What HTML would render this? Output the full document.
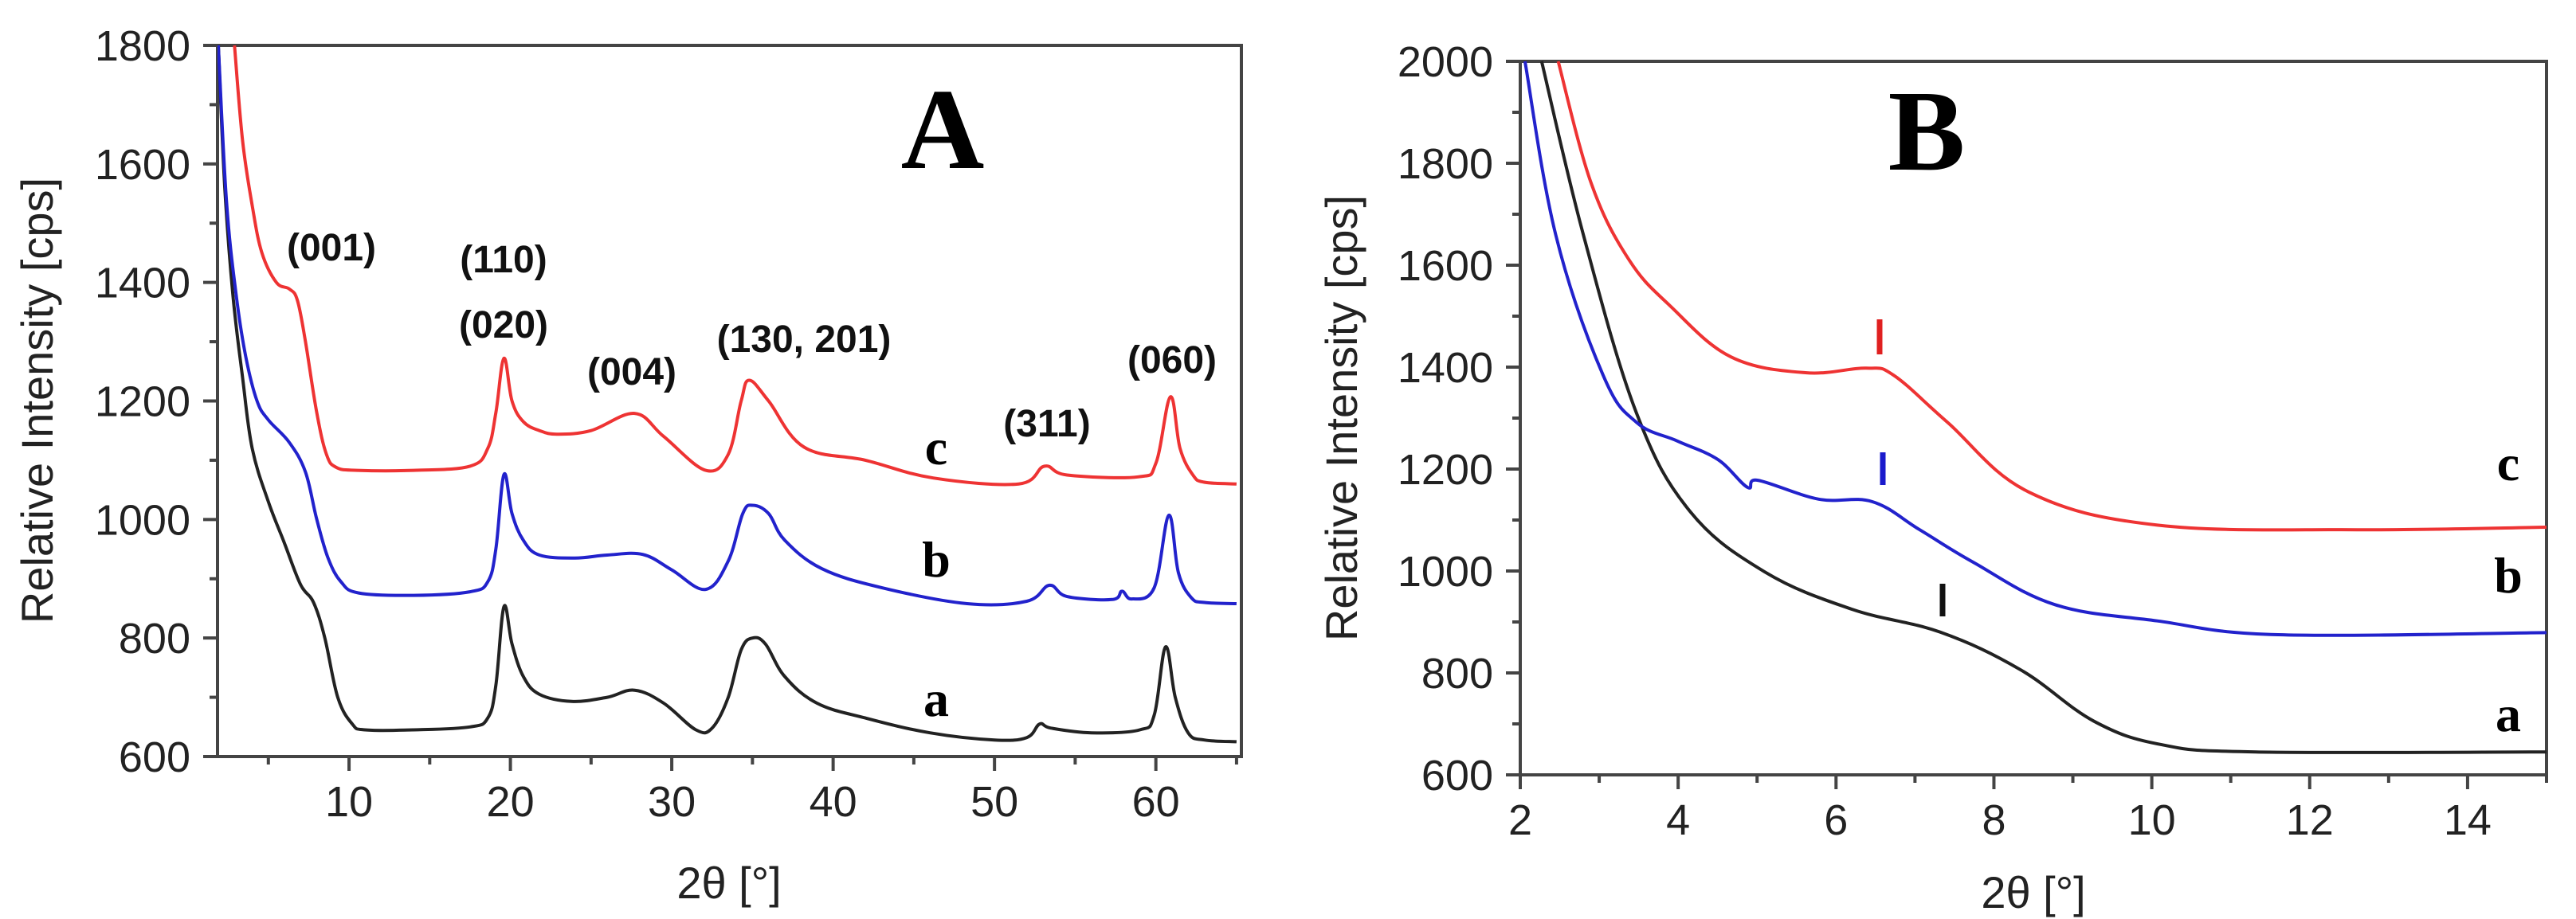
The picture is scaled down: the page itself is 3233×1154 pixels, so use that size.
<!DOCTYPE html>
<html><head><meta charset="utf-8"><style>
html,body{margin:0;padding:0;background:#fff;}
svg{display:block;}
text{font-family:"Liberation Sans",sans-serif;fill:#222;}
.serif{font-family:"Liberation Serif",serif;font-weight:bold;fill:#000;}
.pk{font-weight:bold;font-size:48px;fill:#111;}
</style></head><body>
<svg id="chart" width="3233" height="1154" viewBox="0 0 3233 1154"></svg>
<script>
// Panel A data
const aX=[1.9,2.3,2.8,3.4,4,5,6,7,7.8,8.5,9.3,10.2,11,14,17.5,18.6,19.1,19.6,20.1,20.8,21.8,23.8,26,27.7,29.5,31.5,32.5,33.5,34.3,35,35.8,37,39,42,46,50,52,52.8,53.5,56,59,59.9,60.6,61.2,62.0,63,65];
const aA=[1800,1560,1380,1240,1120,1030,960,890,860,800,700,655,645,645,650,665,720,853,790,735,705,693,700,712,690,645,648,700,780,800,790,735,690,665,640,628,632,655,648,640,645,670,785,700,640,628,625];
const bX=[1.9,2.4,3.0,3.6,4.3,5.0,6.3,7.3,8.0,8.7,9.5,10.6,14,17.5,18.6,19.1,19.6,20.1,20.8,21.8,24,26,28.2,30,32.1,33.5,34.4,35,36,37,39.3,43,48.3,52,53.4,54.5,57.3,57.9,58.5,59.9,60.8,61.4,62.2,63,65];
const bB=[1800,1540,1380,1275,1200,1168,1130,1080,1000,935,895,876,872,878,895,950,1076,1010,965,940,935,940,941,915,882,930,1010,1024,1010,965,917,885,858,862,889,870,865,879,866,885,1007,910,868,860,858];
const cX=[2.9,3.4,4.0,4.6,5.5,6.3,6.8,7.3,8.0,8.6,9.2,10.5,14,17.5,18.6,19.1,19.6,20.1,20.8,21.8,22.9,25,27.7,29.5,32.1,33.5,34.3,34.8,36,38.2,42,46.2,51.5,53.1,54.5,58.9,60.0,60.9,61.5,62.3,63,65];
const cC=[1800,1640,1530,1450,1400,1389,1370,1300,1180,1110,1088,1083,1083,1090,1120,1180,1272,1200,1165,1150,1144,1150,1179,1140,1083,1110,1200,1235,1200,1122,1100,1070,1060,1090,1075,1072,1095,1207,1120,1075,1063,1060];
const aXTicks=[10,20,30,40,50,60];
const aYTicks=[600,800,1000,1200,1400,1600,1800];
// Panel B data
const bbX=[2.06,2.45,3.05,3.47,3.99,4.5,4.88,5.01,5.78,6.46,7.06,7.74,8.77,10.07,11.6,15];
const bbB=[2000,1659,1384,1292,1255,1219,1164,1178,1141,1136,1081,1017,934,902,875,879];
const baX=[2.27,2.8,3.47,4.15,5.1,6.2,7.32,8.34,9.27,10.13,11.32,15];
const baA=[2000,1659,1311,1117,998,925,880,806,705,659,645,645];
const bcX=[2.48,2.9,3.38,3.9,4.67,5.61,6.38,6.73,7.41,8.44,10.07,12.6,15];
const bcC=[2000,1760,1610,1520,1420,1389,1398,1384,1292,1155,1090,1081,1086];
const bXTicks=[2,4,6,8,10,12,14];
const bYTicks=[600,800,1000,1200,1400,1600,1800,2000];

const NS="http://www.w3.org/2000/svg";
const svg=document.getElementById('chart');
function mk(tag,attrs,parent){const e=document.createElementNS(NS,tag);for(const k in attrs)e.setAttribute(k,attrs[k]);(parent||svg).appendChild(e);return e;}

const A={x0:273,x1:1558,y0:57,y1:950,xmin:1.85,xmax:65.3,ymin:600,ymax:1800};
const B={x0:1908,x1:3196,y0:77,y1:973,xmin:2,xmax:15,ymin:600,ymax:2000};
function sx(P,v){return P.x0+(v-P.xmin)/(P.xmax-P.xmin)*(P.x1-P.x0);}
function sy(P,v){return P.y1-(v-P.ymin)/(P.ymax-P.ymin)*(P.y1-P.y0);}

function frame(P,name,xt,yt,xminor,yminor){
  const g=mk('g',{});
  
  
  const clip=mk('clipPath',{id:name+'clip'});
  mk('rect',{x:P.x0,y:P.y0-40,width:P.x1-P.x0,height:P.y1-P.y0+40},clip);
  const r=mk('rect',{x:P.x0,y:P.y0,width:P.x1-P.x0,height:P.y1-P.y0,fill:'none',stroke:'#444','stroke-width':4},g);
  
  
  for(let v=Math.ceil(P.xmin/xminor)*xminor;v<=P.xmax+1e-9;v+=xminor){
    const major=xt.some(t=>Math.abs(t-v)<1e-6);
    mk('line',{x1:sx(P,v),x2:sx(P,v),y1:P.y1,y2:P.y1+(major?18:10),stroke:'#444','stroke-width':4},g);
  }
  for(let v=P.ymin;v<=P.ymax+1e-9;v+=yminor){
    const major=yt.some(t=>Math.abs(t-v)<1e-6);
    mk('line',{x1:P.x0,x2:P.x0-(major?18:10),y1:sy(P,v),y2:sy(P,v),stroke:'#444','stroke-width':4},g);
  }
  xt.forEach(t=>{const e=mk('text',{x:sx(P,t),y:P.y1+75,'font-size':54,'text-anchor':'middle'},g);e.textContent=t;
    
    });
  yt.forEach(t=>{const e=mk('text',{x:P.x0-34,y:sy(P,t)+19,'font-size':54,'text-anchor':'end'},g);e.textContent=t;
    
    });
}
function series(P,name,xs,ys,color){
  const pts=xs.map((x,i)=>[sx(P,x),sy(P,ys[i])]);
  let d='M'+pts[0][0].toFixed(1)+' '+pts[0][1].toFixed(1);
  for(let i=0;i<pts.length-1;i++){
    const p0=pts[Math.max(0,i-1)],p1=pts[i],p2=pts[i+1],p3=pts[Math.min(pts.length-1,i+2)];
    const t=0.18;
    const c1=[p1[0]+(p2[0]-p0[0])*t,p1[1]+(p2[1]-p0[1])*t];
    const c2=[p2[0]-(p3[0]-p1[0])*t,p2[1]-(p3[1]-p1[1])*t];
    d+=' C'+c1[0].toFixed(1)+' '+c1[1].toFixed(1)+' '+c2[0].toFixed(1)+' '+c2[1].toFixed(1)+' '+p2[0].toFixed(1)+' '+p2[1].toFixed(1);
  }
  const p=mk('path',{d:d,fill:'none',stroke:color,'stroke-width':4,'stroke-linejoin':'round','clip-path':'url(#'+name.split('-')[0]+'clip)'});
  
  
}
frame(A,'A',aXTicks,aYTicks,5,100);
frame(B,'B',bXTicks,bYTicks,1,100);
series(A,'A-series-a',aX,aA,'#222');
series(A,'A-series-b',bX,bB,'#2222cc');
series(A,'A-series-c',cX,cC,'#ee3333');
series(B,'B-series-a',baX,baA,'#222');
series(B,'B-series-b',bbX,bbB,'#2222cc');
series(B,'B-series-c',bcX,bcC,'#ee3333');

function txt(s,x,y,size,cls,name,anchor,extra){
  const e=mk('text',Object.assign({x:x,y:y,'font-size':size,'text-anchor':anchor||'middle'},extra||{}));
  if(cls)e.setAttribute('class',cls);
  e.textContent=s;
  
  
  return e;
}
txt('A',1183,211,145,'serif','panel-a-letter');
txt('B',2418,213,145,'serif','panel-b-letter');
txt('(001)',416,327,48,'pk','peak-001');
txt('(110)',632,342,48,'pk','peak-110');
txt('(020)',632,424,48,'pk','peak-020');
txt('(004)',793,483,48,'pk','peak-004');
txt('(130, 201)',1009,442,48,'pk','peak-130-201');
txt('(311)',1314,548,48,'pk','peak-311');
txt('(060)',1471,468,48,'pk','peak-060');
txt('c',1175,583,64,'serif','A-label-c');
txt('b',1175,724,64,'serif','A-label-b');
txt('a',1175,899,64,'serif','A-label-a');
txt('c',3148,603,64,'serif','B-label-c');
txt('b',3148,744,64,'serif','B-label-b');
txt('a',3148,918,64,'serif','B-label-a');
txt('Relative Intensity [cps]',0,0,56,null,'A-y-axis-title','middle',{transform:'translate(66,503) rotate(-90)'});
txt('Relative Intensity [cps]',0,0,56,null,'B-y-axis-title','middle',{transform:'translate(1703,525) rotate(-90)'});
txt('2θ [°]',915,1128,56,null,'A-x-axis-title');
txt('2θ [°]',2552,1140,56,null,'B-x-axis-title');
[[2359,401,445,'#e02020','marker-c'],[2363,568,609,'#1a1acc','marker-b'],[2438,733,774,'#111','marker-a']].forEach(m=>{
  const l=mk('line',{x1:m[0],x2:m[0],y1:m[1],y2:m[2],stroke:m[3],'stroke-width':7});
  
  
});
</script>
</body></html>
